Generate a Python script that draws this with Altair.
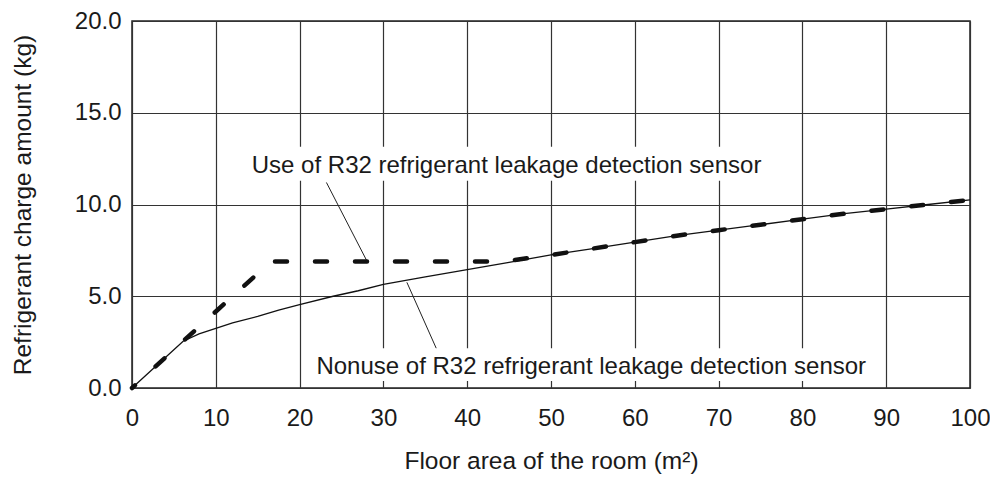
import altair as alt
import pandas as pd

# Nonuse of R32 refrigerant leakage detection sensor (thin solid line)
nonuse_x = [0, 6.1, 8, 10, 12, 15, 17.5, 20, 24, 27, 30, 35, 40, 45, 50, 55, 60, 65, 70, 75, 80, 85, 90, 95, 100]
nonuse_y = [0, 2.55, 2.95, 3.25, 3.55, 3.9, 4.25, 4.55, 5.0, 5.3, 5.65, 6.05, 6.45, 6.85, 7.25, 7.6, 7.95, 8.3, 8.6, 8.9, 9.2, 9.5, 9.75, 10.0, 10.25]

# Use of R32 refrigerant leakage detection sensor (thick dashed line)
use_x = [0, 6.1, 16.6, 44.5, 50, 55, 60, 65, 70, 75, 80, 85, 90, 95, 100]
use_y = [0, 2.55, 6.9, 6.9, 7.25, 7.6, 7.95, 8.3, 8.6, 8.9, 9.2, 9.5, 9.75, 10.0, 10.25]

x_ticks = [0, 10, 20, 30, 40, 50, 60, 70, 80, 90, 100]
y_ticks = [0, 5, 10, 15, 20]

label_texts = ["Use of R32 refrigerant leakage detection sensor",
               "Nonuse of R32 refrigerant leakage detection sensor"]
label_x = [44.7, 54.8]
label_y = [11.74, 0.745]
box_x = [13.9, 21.7]
box_x2 = [75.5, 88.0]
box_y = [13.15, 2.17]
box_y2 = [11.3, 0.38]
leader_x = [23.2, 28.0, 32.8, 36.3]
leader_y = [11.2, 6.95, 5.76, 2.17]
leader_id = ["use", "use", "nonuse", "nonuse"]

FONT = "Liberation Sans"

nonuse_df = pd.DataFrame({"x": nonuse_x, "y": nonuse_y, "o": range(len(nonuse_x))})
use_df = pd.DataFrame({"x": use_x, "y": use_y, "o": range(len(use_x))})
label_df = pd.DataFrame({"x": label_x, "y": label_y, "t": label_texts})
box_df = pd.DataFrame({"x": box_x, "x2": box_x2, "y": box_y, "y2": box_y2})
leader_df = pd.DataFrame({"x": leader_x, "y": leader_y, "g": leader_id})

xs = alt.Scale(domain=[0, 100], nice=False, zero=False)
ys = alt.Scale(domain=[0, 20], nice=False, zero=False)

xaxis = alt.Axis(values=x_ticks, title="Floor area of the room (m²)", format="d",
                 labelBaseline="alphabetic", labelPadding=37, labelFlush=False,
                 titleY=80, titleBaseline="alphabetic", titleAlign="center")
yaxis = alt.Axis(values=y_ticks, title="Refrigerant charge amount (kg)", format=".1f",
                 labelPadding=11, labelFlush=False,
                 titleX=-102, titleY=183.5, titleAngle=-90,
                 titleBaseline="alphabetic", titleAlign="center")

X = alt.X("x:Q", scale=xs, axis=xaxis)
Y = alt.Y("y:Q", scale=ys, axis=yaxis)

boxes = alt.Chart(box_df).mark_rect(fill="white", stroke=None).encode(
    x=X, x2="x2:Q", y=Y, y2="y2:Q")

labels = alt.Chart(label_df).mark_text(
    font=FONT, fontSize=24, color="#1a1a1a", align="center", baseline="alphabetic"
).encode(x=X, y=Y, text="t:N")

leaders = alt.Chart(leader_df).mark_line(color="#222", strokeWidth=1).encode(
    x=X, y=Y, detail="g:N")

nonuse = alt.Chart(nonuse_df).mark_line(color="#111", strokeWidth=1.3).encode(
    x=X, y=Y, order="o:Q")

use = alt.Chart(use_df).mark_line(
    color="#111", strokeWidth=4.5, strokeCap="round",
    strokeDash=[12, 28], strokeDashOffset=8
).encode(x=X, y=Y, order="o:Q")

chart = alt.layer(boxes, labels, leaders, nonuse, use).properties(
    width=838, height=367,
    autosize=alt.AutoSizeParams(type="none"),
    padding={"left": 124, "top": 13, "right": 20, "bottom": 86},
).configure_view(
    stroke="#222", strokeWidth=1.5
).configure_axis(
    grid=True, gridColor="#333", gridWidth=1.2, gridOpacity=1,
    domain=False, ticks=False, tickSize=0,
    labelFont=FONT, labelFontSize=24, labelColor="#1a1a1a",
    titleFont=FONT, titleFontSize=24.5, titleColor="#1a1a1a", titleFontWeight="normal",
    labelOverlap=False,
)

chart.save("out.html", embed_options={"renderer": "svg", "actions": False})
